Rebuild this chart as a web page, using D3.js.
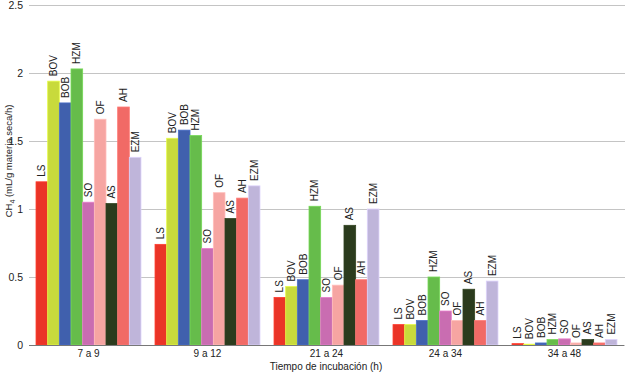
<!DOCTYPE html>
<html>
<head>
<meta charset="utf-8">
<script src="https://cdn.jsdelivr.net/npm/d3@7"></script>
<style>
  body { margin: 0; background: #fff; }
  svg { font-family: "Liberation Sans", Arial, Helvetica, sans-serif; }
  .grid line { stroke: #c4c4c4; stroke-width: 1; }
  .grid .domain { display: none; }
  .yaxis text { fill: #222; font-size: 10.5px; }
  .xaxis text { fill: #222; font-size: 10px; }
  .barlabel { fill: #222; font-size: 10px; }
</style>
</head>
<body>
<svg id="chart" width="625" height="372"></svg>
<script>
// Incubation periods (x groups)
var periods = ["7 a 9", "9 a 12", "21 a 24", "24 a 34", "34 a 48"];
// Substrates (bars inside each group)
var substrates = ["LS", "BOV", "BOB", "HZM", "SO", "OF", "AS", "AH", "EZM"];
var colors = ["#ea3427", "#c8da3c", "#4060ad", "#66bc4b", "#c96db1",
              "#f6a5a2", "#2b3b1d", "#f16a66", "#bfb5da"];

// CH4 production, one row per period, in substrate order
var vals7a9   = [1.20, 1.94, 1.78, 2.03, 1.05, 1.66, 1.04, 1.75, 1.38];
var vals9a12  = [0.74, 1.52, 1.58, 1.54, 0.71, 1.12, 0.93, 1.08, 1.17];
var vals21a24 = [0.35, 0.43, 0.48, 1.02, 0.35, 0.44, 0.88, 0.48, 1.00];
var vals24a34 = [0.15, 0.15, 0.18, 0.50, 0.25, 0.18, 0.41, 0.18, 0.47];
var vals34a48 = [0.01, 0.006, 0.015, 0.04, 0.045, 0.015, 0.04, 0.015, 0.04];
var yTicks = [0, 0.5, 1, 1.5, 2, 2.5];

var series = [vals7a9, vals9a12, vals21a24, vals24a34, vals34a48];

var svg = d3.select("#chart")
  , x0 = d3.scaleBand()
      .domain(periods)
      .range([29, 624])
      .paddingInner(0.118)
      .paddingOuter(0.059)
  , x1 = d3.scaleBand()
      .domain(substrates)
      .range([0, x0.bandwidth()])
  , y = d3.scaleLinear()
      .domain([0, 2.5])
      .range([345, 5])
  , colorScale = d3.scaleOrdinal()
      .domain(substrates)
      .range(colors)
;

// horizontal grid lines across the plot
svg.append("g")
    .attr("class", "grid")
    .attr("transform", "translate(29,0)")
    .call(d3.axisRight(y).tickValues(yTicks).tickSize(596).tickFormat(""))
;

// y labels
var yaxis = svg.append("g")
    .attr("class", "yaxis")
    .attr("transform", "translate(30,0)")
    .call(d3.axisLeft(y).tickValues(yTicks).tickSize(0).tickPadding(7)
      .tickFormat(function(d) { return d; }))
;
yaxis.select(".domain").remove();

// groups of bars
var groups = svg.selectAll(".period")
    .data(series)
  .enter().append("g")
    .attr("class", "period")
    .attr("transform", function(d, i) { return "translate(" + x0(periods[i]) + ",0)"; })
;

var cells = groups.selectAll(".bar")
    .data(function(d) {
        return d.map(function(v, j) { return { key: substrates[j], value: v }; });
      })
  .enter().append("g")
    .attr("class", "bar")
;

cells.append("rect")
    .attr("x", function(d) { return x1(d.key); })
    .attr("y", function(d) { return y(d.value); })
    .attr("width", x1.bandwidth())
    .attr("height", function(d) { return y(0) - y(d.value); })
    .attr("fill", function(d) { return colorScale(d.key); })
    .attr("stroke", function(d) { return d3.color(colorScale(d.key)).brighter(0.4); })
    .attr("stroke-width", 0.8)
;

cells.append("text")
    .attr("class", "barlabel")
    .attr("transform", function(d) {
        var cx = x1(d.key) + x1.bandwidth() / 2 + 3.6;
        return "translate(" + cx + "," + (y(d.value) - 5) + ") rotate(-90)";
      })
    .text(function(d) { return d.key; })
;

// x axis line and group labels
var xaxis = svg.append("g")
    .attr("class", "xaxis")
    .attr("transform", "translate(0," + y(0) + ")")
    .call(d3.axisBottom(x0).tickSize(0).tickPadding(5))
;
xaxis.select(".domain")
    .attr("d", "M29,0.5H624")
    .attr("stroke", "#777")
;

// axis titles
svg.append("text")
    .attr("x", 326)
    .attr("y", 370)
    .attr("text-anchor", "middle")
    .style("font-size", "10px")
    .attr("fill", "#222")
    .text("Tiempo de incubación (h)")
;

var ytitle = svg.append("text")
    .attr("transform", "translate(12,161) rotate(-90)")
    .attr("text-anchor", "middle")
    .style("font-size", "9.5px")
    .attr("fill", "#222")
;
ytitle.append("tspan").text("CH");
ytitle.append("tspan").attr("dy", 2.5).style("font-size", "7px").text("4");
ytitle.append("tspan").attr("dy", -2.5).text(" (mL/g materia seca/h)");
</script>
</body>
</html>
